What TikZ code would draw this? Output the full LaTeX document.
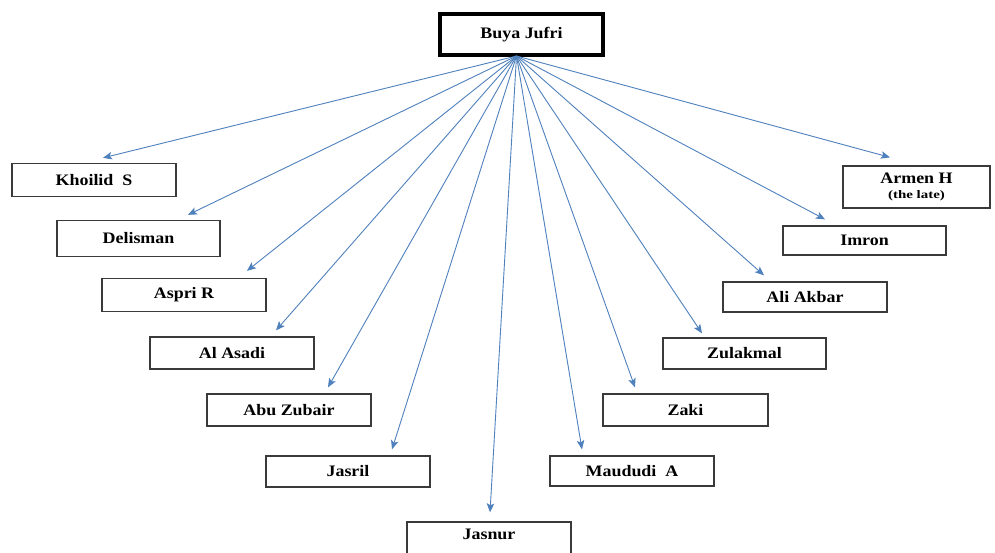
\documentclass[tikz,border=0pt]{standalone}
\usepackage{fontspec}
\setmainfont{Liberation Serif}[FakeStretch=1.12]
\newfontfamily\latefont{Liberation Serif}[FakeStretch=1.3]
\usetikzlibrary{arrows.meta}
\definecolor{arrowblue}{HTML}{4F81BD}
\definecolor{boxgray}{HTML}{3A3A3A}
\begin{document}
\begin{tikzpicture}[x=1pt,y=-1pt,
  person/.style={draw=boxgray,line width=1.3pt,fill=white,rectangle,inner sep=0pt,
    minimum width=164pt,minimum height=33pt,
    font=\fontsize{16}{18}\selectfont\bfseries},
  headbox/.style={draw=black,line width=4pt,fill=white,rectangle,inner sep=0pt,
    minimum width=163pt,minimum height=41pt,
    font=\fontsize{16}{18}\selectfont\bfseries},
  arr/.style={draw=arrowblue,line width=0.9pt,-{Stealth[length=9pt,width=7.5pt,inset=2pt]}}]
\useasboundingbox[fill=white] (0,0) rectangle (995,552);
\begin{scope}
\clip (0,0) rectangle (995,552);
\node[headbox] (top) at (521.5,34.5) {Buya Jufri};
\node[person] (khoilid) at (94,180) {Khoilid\ \ S};
\node[person,minimum width=163pt,minimum height=36pt] (delisman) at (138.5,238.5) {Delisman};
\node[person] (aspri) at (184,295) {Aspri\ R};
\node[person,minimum height=32pt] (alasadi) at (232,353) {Al Asadi};
\node[person,minimum height=32pt] (abuzubair) at (289,410) {Abu Zubair};
\node[person,minimum height=31pt] (jasril) at (348,471.5) {Jasril};
\node[person,minimum height=36pt,text depth=12pt] (jasnur) at (489,540) {Jasnur};
\node[person,minimum height=30pt] (maududi) at (632,471) {Maududi\ \ A};
\node[person,minimum width=165pt,minimum height=32pt] (zaki) at (685.5,410) {Zaki};
\node[person,minimum width=163pt,minimum height=31pt] (zulakmal) at (744.5,353.5) {Zulakmal};
\node[person,minimum height=30pt] (aliakbar) at (805,297) {Ali\ Akbar};
\node[person,minimum width=163pt,minimum height=29pt] (imron) at (864.5,240.5) {Imron};
\node[person,minimum width=147pt,minimum height=42pt,align=center] (armen) at (916.5,187)
  {Armen\ H\\[-3pt]{\latefont\fontsize{11.5}{13}\selectfont\bfseries (the late)}};
\end{scope}
\coordinate (src) at ([xshift=-5pt,yshift=1pt]top.south);
\draw[arr] (src) -- ([xshift=9pt,yshift=5pt]khoilid.north);
\draw[arr] (src) -- ([xshift=49.5pt,yshift=5pt]delisman.north);
\draw[arr] (src) -- ([xshift=63pt,yshift=7pt]aspri.north);
\draw[arr] (src) -- ([xshift=44pt,yshift=6pt]alasadi.north);
\draw[arr] (src) -- ([xshift=39pt,yshift=6pt]abuzubair.north);
\draw[arr] (src) -- ([xshift=44pt,yshift=6pt]jasril.north);
\draw[arr] (src) -- ([xshift=1pt,yshift=9pt]jasnur.north);
\draw[arr] (src) -- ([xshift=-50pt,yshift=6pt]maududi.north);
\draw[arr] (src) -- ([xshift=-50.5pt,yshift=6pt]zaki.north);
\draw[arr] (src) -- ([xshift=-42.5pt,yshift=4pt]zulakmal.north);
\draw[arr] (src) -- ([xshift=-41pt,yshift=6pt]aliakbar.north);
\draw[arr] (src) -- ([xshift=-39.5pt,yshift=6pt]imron.north);
\draw[arr] (src) -- ([xshift=-26.5pt,yshift=8pt]armen.north);
\end{tikzpicture}
\end{document}
